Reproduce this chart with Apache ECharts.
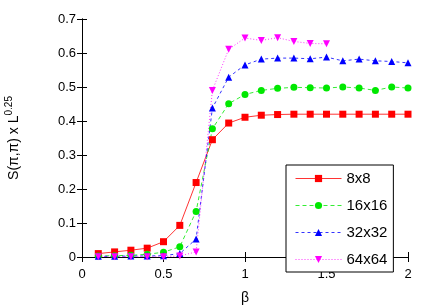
<!DOCTYPE html>
<html><head><meta charset="utf-8">
<script src="https://cdn.jsdelivr.net/npm/echarts@6/dist/echarts.min.js"></script>
<style>html,body{margin:0;padding:0;background:#fff}#c{width:436px;height:305px}</style>
</head><body><div id="c"></div>
<script>
const beta = [0.1,0.2,0.3,0.4,0.5,0.6,0.7,0.8,0.9,1.0,1.1,1.2,1.3,1.4,1.5,1.6,1.7,1.8,1.9,2.0];
const s8  = [0.010,0.015,0.020,0.026,0.045,0.093,0.219,0.345,0.394,0.411,0.417,0.419,0.420,0.420,0.420,0.420,0.420,0.420,0.420,0.420];
const s16 = [0.003,0.004,0.005,0.008,0.014,0.030,0.134,0.377,0.451,0.478,0.490,0.496,0.499,0.498,0.497,0.500,0.497,0.490,0.500,0.497];
const s32 = [0.002,0.002,0.003,0.003,0.004,0.010,0.053,0.438,0.529,0.565,0.582,0.585,0.585,0.583,0.588,0.577,0.582,0.577,0.575,0.571];
const s64 = [0.001,0.001,0.001,0.001,0.001,0.003,0.015,0.490,0.611,0.644,0.637,0.645,0.634,0.628,0.627];
const names = ['8x8','16x16','32x32','64x64'];
const xTicks = {min:0, max:2, interval:0.5};
const yTicks = {min:0, max:0.7, interval:0.1};

const pair = v => v.map((y,i)=>[beta[i], y]);
const font = 'Liberation Sans, Arial, sans-serif';
const chart = echarts.init(document.getElementById('c'));
const mk = (name, vals, color, type, symbol, size, rot) => ({
  name, type:'line', data: pair(vals), color,
  symbol, symbolSize:size, symbolRotate: rot||0,
  lineStyle:{color, width:1, type, opacity:0.8},
  itemStyle:{color},
  emphasis:{disabled:true}
});
chart.setOption({
  animation:false,
  textStyle:{fontFamily:font},
  grid:{left:82, right:28, top:19, bottom:48, show:false, containLabel:false, outerBoundsMode:'none'},
  legend:{
    data:names, orient:'vertical', left:286, top:165,
    borderColor:'#000', borderWidth:1, padding:[6,6,5,9],
    itemWidth:46, itemHeight:9, itemGap:12,
    lineStyle:{width:1},
    textStyle:{fontSize:15, color:'#000', fontFamily:font},
    backgroundColor:'#fff'
  },
  xAxis:[{
    type:'value', ...xTicks, position:'bottom',
    name:'β', nameLocation:'middle', nameGap:34,
    nameTextStyle:{fontSize:14, color:'#000'},
    axisLine:{lineStyle:{color:'#000', width:1}},
    axisTick:{inside:true, length:5, lineStyle:{color:'#000'}},
    axisLabel:{fontSize:13, color:'#000', margin:11},
    splitLine:{show:false}
  },{
    type:'value', ...xTicks, position:'top',
    axisLine:{lineStyle:{color:'#000', width:1}},
    axisTick:{inside:true, length:5, lineStyle:{color:'#000'}},
    axisLabel:{show:false}, splitLine:{show:false}
  }],
  yAxis:[{
    type:'value', ...yTicks, position:'left',
    name:'{a|S(π,π) x L}{b|0.25}', nameLocation:'middle', nameGap:58, nameRotate:90,
    nameTextStyle:{color:'#000', rich:{a:{fontSize:14, color:'#000', fontFamily:font}, b:{fontSize:10, color:'#000', fontFamily:font, verticalAlign:'bottom', padding:[0,0,10,0]}}},
    axisLine:{show:true, lineStyle:{color:'#000', width:1}},
    axisTick:{show:true, inside:true, length:5, lineStyle:{color:'#000'}},
    axisLabel:{fontSize:13, color:'#000', margin:6},
    splitLine:{show:false}
  },{
    type:'value', ...yTicks, position:'right',
    axisLine:{show:true, lineStyle:{color:'#000', width:1}},
    axisTick:{show:true, inside:true, length:5, lineStyle:{color:'#000'}},
    axisLabel:{show:false}, splitLine:{show:false}
  }],
  series:[
    mk(names[0], s8, '#ff0000', 'solid', 'rect', 7),
    mk(names[1], s16, '#00e800', [4,3], 'circle', 7),
    mk(names[2], s32, '#0000ff', [3,3], 'triangle', 7),
    mk(names[3], s64, '#ff00ff', [1,2], 'triangle', 7, 180)
  ]
});
</script></body></html>
